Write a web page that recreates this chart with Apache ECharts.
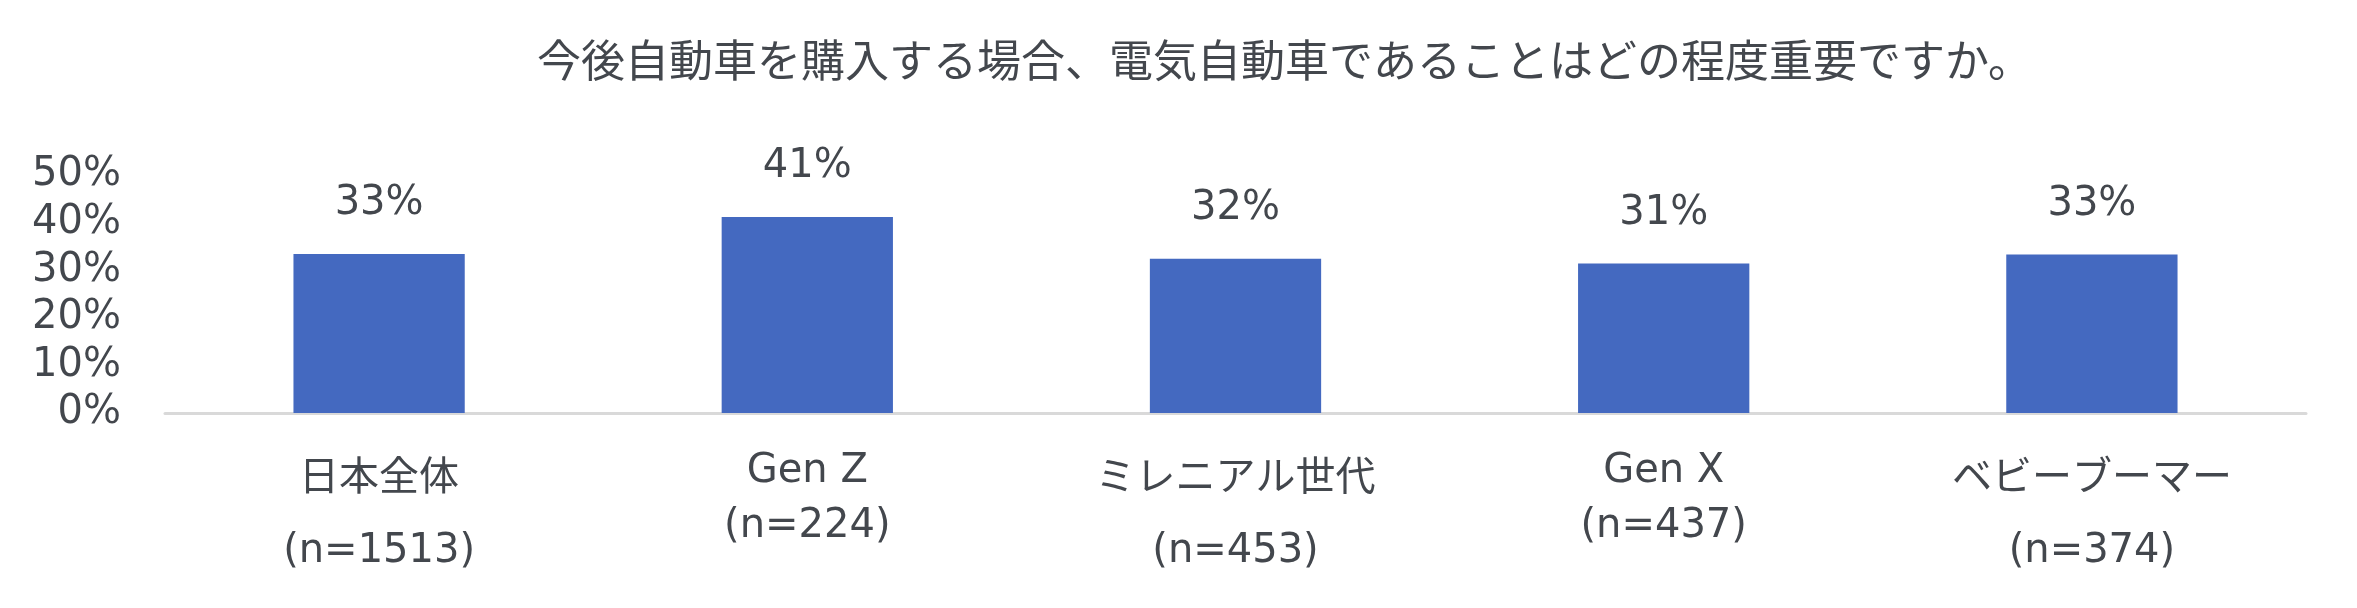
<!DOCTYPE html>
<html>
<head>
<meta charset="utf-8">
<script src="https://cdn.jsdelivr.net/npm/echarts@6/dist/echarts.min.js"></script>
<style>
html,body{margin:0;padding:0;background:#fff;}
#chart{width:2357px;height:608px;}
</style>
</head>
<body>
<div id="chart"></div>
<script>
const titleText = '今後自動車を購入する場合、電気自動車であることはどの程度重要ですか。';
const categories = ['日本全体', 'Gen Z', 'ミレニアル世代', 'Gen X', 'ベビーブーマー'];
const sampleSizes = [1513, 224, 453, 437, 374];
const values = [33.4, 41.2, 32.4, 31.4, 33.3];
const yTicks = [0, 10, 20, 30, 40, 50];

const textColor = '#43474D';
const fontLatin = "'DejaVu Sans', 'Noto Sans CJK JP', sans-serif";
const fontCJK = "'Noto Sans CJK JP', 'DejaVu Sans', sans-serif";

const chart = echarts.init(document.getElementById('chart'), null, {renderer: 'canvas'});

const isCJK = s => /[^\x00-\x7F]/.test(s);

chart.setOption({
  backgroundColor: '#ffffff',
  animation: false,
  title: {
    text: titleText,
    left: 537,
    top: 38,
    padding: 0,
    textStyle: {
      fontFamily: fontCJK,
      fontSize: 44,
      fontWeight: 'normal',
      color: textColor,
      lineHeight: 44
    }
  },
  grid: {
    left: 165,
    right: 51,
    top: 175,
    bottom: 195,
    containLabel: false
  },
  xAxis: {
    type: 'category',
    data: categories,
    axisLine: {show: true, lineStyle: {color: '#D9D9D9', width: 3}},
    axisTick: {show: false},
    axisLabel: {
      interval: 0,
      margin: 31,
      fontFamily: fontLatin,
      color: textColor,
      formatter: function (v, i) {
        const n = '(n=' + sampleSizes[i] + ')';
        if (isCJK(v)) return '{j|' + v + '}\n{jn|' + n + '}';
        return '{l|' + v + '}\n{ln|' + n + '}';
      },
      rich: {
        j: {fontFamily: fontLatin, fontSize: 40, lineHeight: 72, color: textColor},
        jn: {fontFamily: fontLatin, fontSize: 40, lineHeight: 72, color: textColor},
        l: {fontFamily: fontLatin, fontSize: 40, lineHeight: 55, color: textColor},
        ln: {fontFamily: fontLatin, fontSize: 40, lineHeight: 55, color: textColor}
      }
    }
  },
  yAxis: {
    type: 'value',
    min: yTicks[0],
    max: yTicks[yTicks.length - 1],
    interval: yTicks[1] - yTicks[0],
    axisLine: {show: false},
    axisTick: {show: false},
    splitLine: {show: false},
    axisLabel: {
      margin: 44,
      fontFamily: fontLatin,
      fontSize: 40,
      color: textColor,
      formatter: '{value}%'
    }
  },
  series: [{
    type: 'bar',
    data: values,
    barWidth: '40%',
    itemStyle: {color: '#4469C0'},
    label: {
      show: true,
      position: 'top',
      distance: 30,
      fontFamily: fontLatin,
      fontSize: 40,
      lineHeight: 40,
      color: textColor,
      formatter: p => Math.round(p.value) + '%'
    }
  }]
});
</script>
</body>
</html>
